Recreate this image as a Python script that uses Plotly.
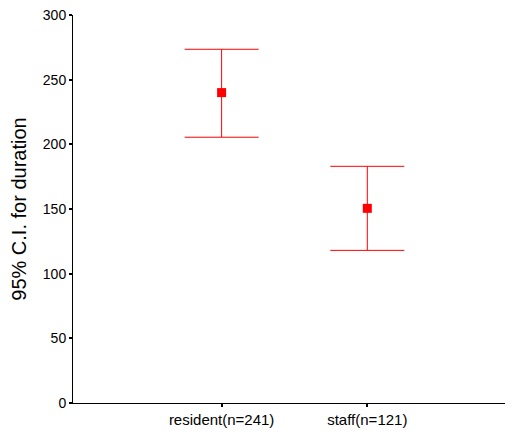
import plotly.graph_objects as go

categories = ["resident(n=241)", "staff(n=121)"]
means = [240, 150.5]
upper = [273.5, 183]
lower = [205.5, 118]
y_ticks = [0, 50, 100, 150, 200, 250, 300]

err_plus = [u - m for u, m in zip(upper, means)]
err_minus = [m - l for m, l in zip(means, lower)]

fig = go.Figure()
fig.add_trace(go.Scatter(
    x=[0, 1], y=means, mode="markers",
    marker=dict(symbol="square", size=9, color="#ff0000"),
    error_y=dict(type="data", array=err_plus, arrayminus=err_minus,
                 color="#ff0000", thickness=1, width=37),
    showlegend=False,
))

fig.update_layout(
    width=505, height=426,
    margin=dict(l=65, r=0, t=7, b=31),
    paper_bgcolor="white", plot_bgcolor="white",
    font=dict(family="Liberation Sans, Arial, sans-serif", color="black", size=14),
    xaxis=dict(range=[-1.02, 2.0], tickvals=[0, 1], ticktext=categories,
               showline=True, linecolor="black", linewidth=1,
               ticks="outside", ticklen=3, tickwidth=2, tickcolor="black",
               showgrid=False, zeroline=False, tickfont=dict(size=15),
               ticklabeloverflow="allow"),
    yaxis=dict(range=[0, 300], tickvals=y_ticks,
               showline=True, linecolor="black", linewidth=1,
               ticks="outside", ticklen=3, tickwidth=2, tickcolor="black",
               showgrid=False, zeroline=False, tickfont=dict(size=14),
               ticklabeloverflow="allow",
               title=dict(text="95% C.I. for duration", font=dict(size=20), standoff=16)),
)

fig.write_html("out.html")
